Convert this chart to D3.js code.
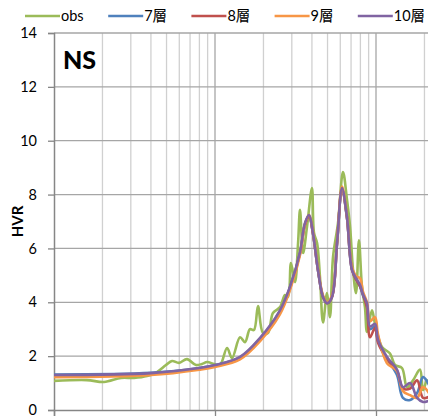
<!DOCTYPE html>
<html>
<head>
<meta charset="utf-8">
<script src="https://cdn.jsdelivr.net/npm/d3@7"></script>
<style>
  body { margin: 0; background: #fff; }
  svg { display: block; font-family: Lato, "Noto Sans CJK JP", sans-serif; }
</style>
</head>
<body>
<svg width="428" height="419"></svg>
<script>
// series names + colours (Excel 2007 palette)
const seriesNames = ["obs", "7層", "8層", "9層", "10層"];
const seriesColors = ["#9bbb59", "#4f81bd", "#c0504d", "#f79646", "#8064a2"];

const yTicks = [0, 2, 4, 6, 8, 10, 12, 14];

// observed H/V ratio (frequency in Hz)
const obsFreq = [0.1, 0.16, 0.2045, 0.261, 0.314, 0.378, 0.436, 0.496, 0.541, 0.598, 0.67, 0.762, 0.83, 0.892, 0.986,
  1.074, 1.188, 1.276, 1.43, 1.536, 1.649, 1.746, 1.849, 1.986, 2.133, 2.291, 2.535, 2.723, 2.84, 2.965, 3.139,
  3.281, 3.373, 3.524, 3.727, 4.002, 4.121, 4.305, 4.487, 4.688, 4.966, 5.176, 5.408, 5.808, 6.238, 6.607, 6.902,
  7.198, 7.516, 7.834, 8.185, 8.546, 8.79, 9.44, 9.86, 10.89, 12.22, 13.12, 14.5, 15.58, 16.98, 18.76, 19.59, 20.75, 21.6];
const obsHvr = [1.08, 1.11, 1.04, 1.19, 1.19, 1.26, 1.41, 1.67, 1.82, 1.75, 1.89, 1.67, 1.71, 1.78, 1.71,
  1.67, 2.3, 1.93, 2.7, 2.52, 3.0, 2.97, 3.86, 2.86, 2.86, 3.6, 3.82, 4.27, 4.2, 5.46, 4.75,
  6.2, 7.43, 5.83, 6.8, 8.24, 6.57, 6.2, 4.94, 3.25, 4.34, 3.45, 5.68, 6.94, 8.84, 7.8, 6.8,
  5.2, 4.34, 6.3, 4.57, 3.8, 2.9, 3.7, 3.2, 2.34, 2.1, 1.67, 1.56, 0.85, 1.1, 1.5, 0.74, 1.1, 0.9];

// model curves share one frequency grid
const modelFreq = [0.1, 0.4, 0.8, 1.0, 1.43, 1.9, 2.53, 2.92, 3.37, 3.62, 3.84, 4.06, 4.36, 4.69, 4.97, 5.33, 5.73,
  6.15, 6.6, 7.1, 7.6, 7.95, 8.3, 8.79, 9.18, 9.86, 10.3, 11.7, 13.5, 14.7, 16.3, 18.0, 19.6, 21.5];
const layer7 = [1.32, 1.38, 1.56, 1.66, 1.95, 2.64, 3.66, 4.55, 5.82, 6.9, 7.2, 6.55, 5.2, 4.2, 3.97, 4.22, 6.2,
  8.2, 7.15, 5.2, 4.8, 4.6, 4.25, 3.9, 3.0, 3.1, 2.55, 1.9, 1.3, 0.45, 0.37, 0.63, 1.22, 0.9];
const layer8 = [1.26, 1.34, 1.53, 1.64, 1.93, 2.62, 3.64, 4.52, 5.8, 6.88, 7.2, 6.55, 5.2, 4.2, 3.97, 4.2, 6.2,
  8.2, 7.15, 5.2, 4.8, 4.6, 4.3, 3.8, 2.7, 3.05, 2.5, 1.9, 1.45, 0.8, 0.8, 1.1, 0.45, 0.5];
const layer9 = [1.22, 1.3, 1.5, 1.6, 1.88, 2.55, 3.55, 4.45, 5.75, 6.9, 7.25, 6.6, 5.25, 4.25, 4.0, 4.25, 6.25,
  8.3, 7.2, 5.3, 4.95, 4.9, 4.4, 4.0, 3.3, 3.45, 2.8, 1.74, 1.45, 0.7, 0.55, 0.45, 0.85, 0.6];
const layer10 = [1.3, 1.37, 1.56, 1.67, 1.97, 2.67, 3.7, 4.57, 5.85, 6.94, 7.24, 6.57, 5.2, 4.2, 3.97, 4.2, 6.2,
  8.24, 7.17, 5.2, 4.85, 4.65, 4.3, 3.95, 3.1, 3.2, 2.6, 1.97, 1.5, 0.85, 1.0, 0.45, 0.3, 0.35];

const zip = (fs, vs) => fs.map((f, i) => ({ f: f, v: vs[i] }));
const series = [
  zip(obsFreq, obsHvr),
  zip(modelFreq, layer7),
  zip(modelFreq, layer8),
  zip(modelFreq, layer9),
  zip(modelFreq, layer10)
];

const svg = d3.select('svg');
const plotLeft = 54, plotTop = 33, plotBottom = 410;

// log x axis: plot runs off the right side of the picture
const xScale = d3.scaleLog().domain([0.1, 100]).range([plotLeft, plotLeft + 161 * 3]);
const yScale = d3.scaleLinear().domain([0, 14]).range([plotBottom, plotTop]);

// minor vertical grid (2..9 of each decade)
const minor = [];
[0.1, 1, 10].forEach(d => { for (let k = 2; k <= 9; k++) minor.push(d * k); });
svg.append('g').selectAll('line').data(minor).enter().append('line')
  .attr('x1', d => xScale(d)).attr('x2', d => xScale(d))
  .attr('y1', plotTop).attr('y2', plotBottom)
  .attr('stroke', '#d0d0d0').attr('stroke-width', 1.3);

// major vertical grid
svg.append('g').selectAll('line').data([1, 10]).enter().append('line')
  .attr('x1', d => xScale(d)).attr('x2', d => xScale(d))
  .attr('y1', plotTop).attr('y2', plotBottom)
  .attr('stroke', '#a6a6a6').attr('stroke-width', 1.3);

// horizontal grid
svg.append('g').selectAll('line').data(yTicks.slice(1)).enter().append('line')
  .attr('x1', plotLeft).attr('x2', 428)
  .attr('y1', d => yScale(d)).attr('y2', d => yScale(d))
  .attr('stroke', '#a6a6a6').attr('stroke-width', 1.3);

// y axis
const yAxis = d3.axisLeft(yScale).tickValues(yTicks).tickSize(6).tickPadding(11);
const gy = svg.append('g').attr('transform', `translate(${plotLeft},0)`).call(yAxis);
gy.select('.domain').attr('stroke', '#868686').attr('stroke-width', 1.5);
gy.selectAll('.tick line').attr('stroke', '#868686').attr('stroke-width', 1.3);
gy.selectAll('.tick text').attr('font-size', 14.5).attr('fill', '#000')
  .attr('font-family', 'Lato, sans-serif');

// x axis (labels fall below the picture)
const xAxis = d3.axisBottom(xScale).tickValues([0.1, 1, 10, 100]).tickSize(6).tickFormat('');
const gx = svg.append('g').attr('transform', `translate(0,${plotBottom})`).call(xAxis);
gx.select('.domain').attr('stroke', '#868686').attr('stroke-width', 1.5);
gx.selectAll('.tick line').attr('stroke', '#868686').attr('stroke-width', 1.3);

// curves
const line = d3.line()
  .x(d => xScale(d.f))
  .y(d => yScale(d.v))
  .curve(d3.curveCatmullRom.alpha(0.5));

svg.append('g').selectAll('path').data(series).enter().append('path')
  .attr('d', line)
  .attr('fill', 'none')
  .attr('stroke', (d, i) => seriesColors[i])
  .attr('stroke-width', 2.6)
  .attr('stroke-linejoin', 'round');

// NS label
svg.append('text').attr('x', 63).attr('y', 69)
  .attr('font-size', 25).attr('font-weight', 900).text('NS');

// y title
svg.append('text')
  .attr('transform', `translate(23,${(plotTop + plotBottom) / 2}) rotate(-90)`)
  .attr('text-anchor', 'middle')
  .attr('font-size', 15).attr('font-weight', 'bold').text('HVR');

// legend
const legend = svg.append('g').selectAll('g').data(seriesNames).enter().append('g')
  .attr('transform', (d, i) => `translate(${25 + i * 83.2},16)`);
legend.append('line')
  .attr('x1', 0).attr('x2', 35)
  .attr('stroke', (d, i) => seriesColors[i]).attr('stroke-width', 2.6);
legend.append('text')
  .attr('x', 36).attr('y', 5)
  .attr('font-size', 14.5)
  .text(d => d);
</script>
</body>
</html>
